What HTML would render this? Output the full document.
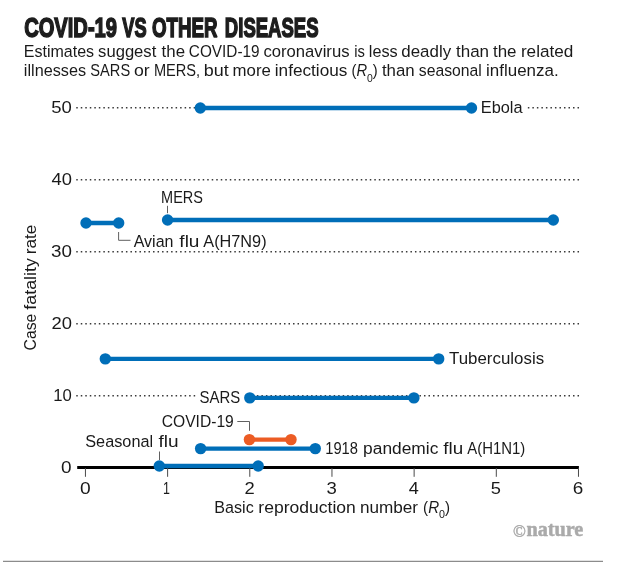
<!DOCTYPE html>
<html><head><meta charset="utf-8">
<style>
html,body{margin:0;padding:0;background:#fff;}
body{width:620px;height:569px;overflow:hidden;font-family:"Liberation Sans",sans-serif;}
svg{display:block;}
text{font-family:"Liberation Sans",sans-serif;fill:#1a1a1a;font-size:15.5px;}
.ttl{font-size:26.5px;font-weight:bold;fill:#1d1d1d;stroke:#1d1d1d;stroke-width:1.5px;stroke-linejoin:miter;stroke-miterlimit:2;}
.grid{stroke:#3a3a3a;stroke-width:1.5;stroke-dasharray:1.5 3.016;fill:none;}
.b{stroke:#006eb8;stroke-width:4.4;fill:none;}
.bd{fill:#006eb8;}
.o{stroke:#ec5c24;stroke-width:4.3;fill:none;}
.od{fill:#ec5c24;}
.ld{stroke:#606060;stroke-width:1;fill:none;}
.sub{font-size:11px;}
.it{font-style:italic;}
.nat{font-family:"Liberation Serif",serif;font-size:22px;font-weight:bold;fill:#aaa;stroke:#aaa;stroke-width:0.5px;}
.cop{font-family:"Liberation Serif",serif;font-size:16.5px;fill:#aaa;stroke:#aaa;stroke-width:0.4px;}
</style></head><body>
<svg width="620" height="569" viewBox="0 0 620 569">
<rect width="620" height="569" fill="#fff"/>

<line class="grid" x1="76.25" y1="107.8" x2="579.3" y2="107.8"/>
<line class="grid" x1="76.25" y1="179.8" x2="579.3" y2="179.8"/>
<line class="grid" x1="76.25" y1="251.8" x2="579.3" y2="251.8"/>
<line class="grid" x1="76.25" y1="323.8" x2="579.3" y2="323.8"/>
<line class="grid" x1="76.25" y1="395.8" x2="579.3" y2="395.8"/>
<rect x="478" y="98" width="48.5" height="20" fill="#fff"/>
<rect x="196" y="388" width="60" height="18" fill="#fff"/>
<line x1="77.2" y1="467.55" x2="578.9" y2="467.55" stroke="#000" stroke-width="3.0"/>
<line x1="85.45" y1="468" x2="85.45" y2="476.8" stroke="#4a4a4a" stroke-width="1"/>
<line x1="167.62" y1="468" x2="167.62" y2="476.8" stroke="#4a4a4a" stroke-width="1"/>
<line x1="249.79" y1="468" x2="249.79" y2="476.8" stroke="#4a4a4a" stroke-width="1"/>
<line x1="331.96" y1="468" x2="331.96" y2="476.8" stroke="#4a4a4a" stroke-width="1"/>
<line x1="414.13" y1="468" x2="414.13" y2="476.8" stroke="#4a4a4a" stroke-width="1"/>
<line x1="496.30" y1="468" x2="496.30" y2="476.8" stroke="#4a4a4a" stroke-width="1"/>
<line x1="578.47" y1="468" x2="578.47" y2="476.8" stroke="#4a4a4a" stroke-width="1"/>
<line class="b" x1="200.3" y1="108.0" x2="471.5" y2="108.0"/><circle class="bd" cx="200.3" cy="108.0" r="5.7"/><circle class="bd" cx="471.5" cy="108.0" r="5.7"/>
<line class="b" x1="167.6" y1="220.0" x2="553.3" y2="220.0"/><circle class="bd" cx="167.6" cy="220.0" r="5.7"/><circle class="bd" cx="553.3" cy="220.0" r="5.7"/>
<line class="b" x1="86.0" y1="223.0" x2="118.7" y2="223.0"/><circle class="bd" cx="86.0" cy="223.0" r="5.7"/><circle class="bd" cx="118.7" cy="223.0" r="5.7"/>
<line class="b" x1="105.3" y1="358.9" x2="438.7" y2="358.9"/><circle class="bd" cx="105.3" cy="358.9" r="5.7"/><circle class="bd" cx="438.7" cy="358.9" r="5.7"/>
<line class="b" x1="249.8" y1="397.9" x2="413.9" y2="397.9"/><circle class="bd" cx="249.8" cy="397.9" r="5.7"/><circle class="bd" cx="413.9" cy="397.9" r="5.7"/>
<line class="o" x1="249.4" y1="439.6" x2="291.0" y2="439.6"/><circle class="od" cx="249.4" cy="439.6" r="5.7"/><circle class="od" cx="291.0" cy="439.6" r="5.7"/>
<line class="b" x1="200.6" y1="448.6" x2="315.3" y2="448.6"/><circle class="bd" cx="200.6" cy="448.6" r="5.7"/><circle class="bd" cx="315.3" cy="448.6" r="5.7"/>
<line class="b" x1="159.3" y1="466.0" x2="258.2" y2="466.0"/><circle class="bd" cx="159.3" cy="466.0" r="5.7"/><circle class="bd" cx="258.2" cy="466.0" r="5.7"/>
<path class="ld" d="M167.5 205.8 V213.2"/>
<path class="ld" d="M118.6 232 V240.3 H130.5"/>
<path class="ld" d="M237.3 421.5 H249.5 V430.8"/>
<path class="ld" d="M159.5 451.5 V460"/>
<g opacity="0.999">
<text class="ttl" transform="translate(24.19,37.2) scale(0.7597,1.050)">COVID-19</text>
<text class="ttl" transform="translate(122.35,37.2) scale(0.6881,1.050)">VS</text>
<text class="ttl" transform="translate(151.91,37.2) scale(0.7076,1.050)">OTHER</text>
<text class="ttl" transform="translate(224.87,37.2) scale(0.6996,1.050)">DISEASES</text>
<text transform="translate(51.27,112.6) scale(1.1958,1.060)">50</text>
<text transform="translate(51.42,184.6) scale(1.1872,1.060)">40</text>
<text transform="translate(50.97,256.6) scale(1.2143,1.060)">30</text>
<text transform="translate(51.39,328.6) scale(1.1887,1.060)">20</text>
<text transform="translate(53.24,400.6) scale(1.0775,1.060)">10</text>
<text transform="translate(61.09,473.0) scale(1.2270,1.060)">0</text>
<text transform="translate(480.78,112.6) scale(1.0551,1.060)">Ebola</text>
<text transform="translate(161.10,203.1) scale(0.9361,1.035)">MERS</text>
<text transform="translate(448.98,364.1) scale(1.0904,1.060)">Tuberculosis</text>
<text transform="translate(199.55,403.1) scale(0.9641,1.035)">SARS</text>
<text transform="translate(161.70,427.1) scale(1.0099,1.035)">COVID-19</text>
<text class="nat" transform="translate(526.38,536.3) scale(0.9205,1.000)">nature</text>
<text class="cop" transform="translate(512.95,536.6) scale(1.0296,1.000)">©</text>
<text transform="translate(23.80,56.8) scale(1.0328,1.060)">Estimates</text>
<text transform="translate(98.09,56.8) scale(1.0730,1.060)">suggest</text>
<text transform="translate(161.58,56.8) scale(1.0891,1.060)">the</text>
<text transform="translate(188.82,56.8) scale(0.9899,1.035)">COVID-19</text>
<text transform="translate(263.45,56.8) scale(1.0750,1.060)">coronavirus</text>
<text transform="translate(354.23,56.8) scale(0.9509,1.060)">is</text>
<text transform="translate(368.85,56.8) scale(1.0495,1.060)">less</text>
<text transform="translate(401.32,56.8) scale(1.0916,1.060)">deadly</text>
<text transform="translate(455.97,56.8) scale(1.0985,1.060)">than</text>
<text transform="translate(492.97,56.8) scale(1.0939,1.060)">the</text>
<text transform="translate(520.89,56.8) scale(1.1069,1.060)">related</text>
<text transform="translate(23.85,76.1) scale(1.0480,1.060)">illnesses</text>
<text transform="translate(90.36,76.1) scale(0.9444,1.035)">SARS</text>
<text transform="translate(134.01,76.1) scale(1.1417,1.060)">or</text>
<text transform="translate(153.89,76.1) scale(0.9433,1.035)">MERS,</text>
<text transform="translate(203.85,76.1) scale(1.1589,1.060)">but</text>
<text transform="translate(232.51,76.1) scale(1.0857,1.060)">more</text>
<text transform="translate(274.79,76.1) scale(1.1090,1.060)">infectious</text>
<text transform="translate(351.54,76.1) scale(0.9492,1.035)">(<tspan class="it">R</tspan><tspan class="sub" dy="5.3">0</tspan><tspan dy="-5.3">)</tspan></text>
<text transform="translate(381.88,76.1) scale(1.0881,1.060)">than</text>
<text transform="translate(418.83,76.1) scale(1.0155,1.060)">seasonal</text>
<text transform="translate(486.11,76.1) scale(1.0934,1.060)">influenza.</text>
<text transform="translate(325.20,454.1) scale(0.9497,1.060)">1918</text>
<text transform="translate(363.08,454.1) scale(1.1202,1.060)">pandemic</text>
<text transform="translate(443.25,454.1) scale(1.2165,1.060)">flu</text>
<text transform="translate(467.29,454.1) scale(0.9617,1.035)">A(H1N1)</text>
<text transform="translate(133.67,246.7) scale(1.0341,1.060)">Avian</text>
<text transform="translate(179.35,246.7) scale(1.2297,1.060)">flu</text>
<text transform="translate(203.27,246.7) scale(1.0513,1.035)">A(H7N9)</text>
<text transform="translate(85.27,447.3) scale(1.0500,1.060)">Seasonal</text>
<text transform="translate(158.55,447.3) scale(1.2297,1.060)">flu</text>
<text transform="translate(214.30,512.8) scale(1.0397,1.060)">Basic</text>
<text transform="translate(258.37,512.8) scale(1.1312,1.060)">reproduction</text>
<text transform="translate(359.89,512.8) scale(1.1073,1.060)">number</text>
<text transform="translate(423.12,512.8) scale(0.9763,1.035)">(<tspan class="it">R</tspan><tspan class="sub" dy="5.3">0</tspan><tspan dy="-5.3">)</tspan></text>
<text transform="translate(79.98,493.9) scale(1.2403,1.060)">0</text>
<text transform="translate(162.88,493.9) scale(0.8040,1.060)">1</text>
<text transform="translate(244.39,493.9) scale(1.1874,1.060)">2</text>
<text transform="translate(326.58,493.9) scale(1.1981,1.060)">3</text>
<text transform="translate(408.72,493.9) scale(1.1666,1.060)">4</text>
<text transform="translate(490.69,493.9) scale(1.1797,1.060)">5</text>
<text transform="translate(572.66,493.9) scale(1.2207,1.060)">6</text>
<text transform="translate(35.7,349.6) rotate(-90) translate(-0.80,0) scale(1.0140,1.060)">Case</text>
<text transform="translate(35.7,349.6) rotate(-90) translate(39.97,0) scale(1.1508,1.060)">fatality</text>
<text transform="translate(35.7,349.6) rotate(-90) translate(95.39,0) scale(1.1097,1.060)">rate</text>
</g>
<line x1="3" y1="561.3" x2="603" y2="561.3" stroke="#8c8c8c" stroke-width="1.2"/>
</svg>
</body></html>
